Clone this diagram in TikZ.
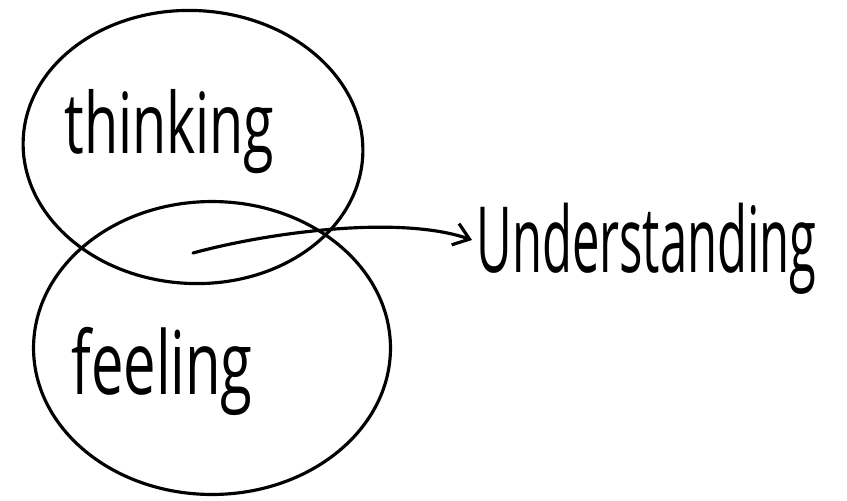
\documentclass[tikz,border=0pt]{standalone}
\usepackage{fontspec}
\setmainfont{Open Sans}
\usepackage{graphicx}
\usetikzlibrary{positioning, shapes.geometric, arrows.meta}

\tikzset{
  bubble/.style={ellipse, draw, line width=1.8pt, inner sep=0pt},
  word/.style={inner sep=0pt, anchor=base west}
}

\begin{document}
\begin{tikzpicture}[x=0.02cm, y=-0.02cm]
                  \useasboundingbox (0,0) rectangle (847,500);
                  % Nodes
                  \node[bubble, minimum width=6.8cm, minimum height=5.46cm, rotate=-3] (thinking) at (193,147) {};
                  \node[bubble, minimum width=7.14cm, minimum height=5.86cm] (feeling) at (212,348) {};
                  \node[word, font=\fontsize{48}{50}\selectfont] (thinkingtext) at (64,153) {\scalebox{0.66}[1]{thinking}};
                  \node[word, font=\fontsize{50}{52}\selectfont] (feelingtext) at (71,394) {\scalebox{0.66}[1]{feeling}};
                  \node[word, font=\fontsize{52}{54}\selectfont] (understanding) at (476,272) {\scalebox{0.536}[1]{Understanding}};
                  \coordinate (overlap) at (193,253);
                  \coordinate (tip) at (472,240);

                  % Arrows
                  \draw[line width=1.8pt, line cap=round, -{Straight Barb[length=3mm, width=4.5mm]}]
                    (overlap) .. controls (270,232) and (400,215) .. (tip);
              \end{tikzpicture}
\end{document}
